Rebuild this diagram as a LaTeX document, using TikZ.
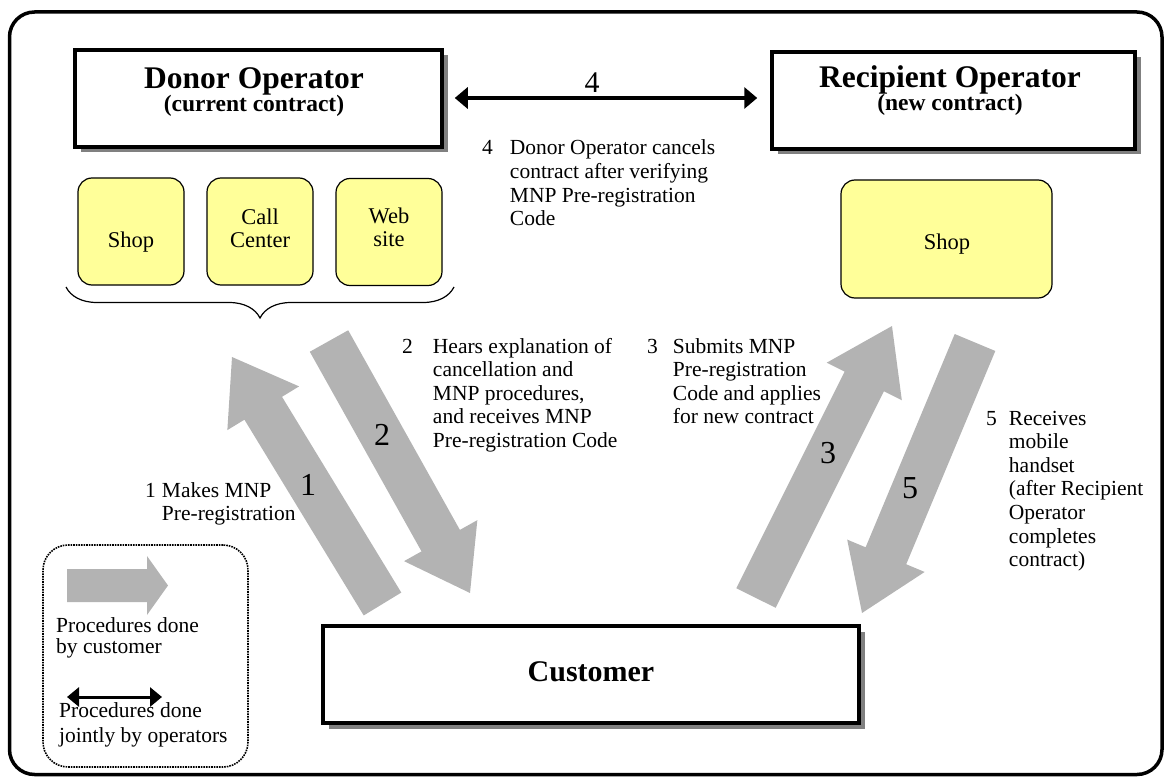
\documentclass[tikz,border=0pt]{standalone}
\usepackage{fontspec}
\setmainfont{Liberation Serif}
\usetikzlibrary{arrows.meta,shadows,decorations.pathreplacing,calc}
\definecolor{fatgray}{HTML}{B3B3B3}
\definecolor{shopyellow}{HTML}{FFFF99}
\definecolor{shadowgray}{HTML}{808080}

% fat block arrow: tail, tip, shaft half-width, head half-width, head length
\newcommand{\fatarrow}[5]{%
  \pgfmathanglebetweenpoints{\pgfpointanchor{#1}{center}}{\pgfpointanchor{#2}{center}}%
  \let\faang\pgfmathresult
  \pgfpointdiff{\pgfpointanchor{#1}{center}}{\pgfpointanchor{#2}{center}}%
  \pgfgetlastxy{\fadx}{\fady}%
  \pgfmathsetmacro\falen{veclen(\fadx,\fady)}%
  \begin{scope}[shift={(#1)},rotate=\faang]
    \fill[fatgray] (0pt,-#3pt) -- (\falen pt-#5pt,-#3pt) -- (\falen pt-#5pt,-#4pt)
      -- (\falen pt,0pt) -- (\falen pt-#5pt,#4pt) -- (\falen pt-#5pt,#3pt) -- (0pt,#3pt) -- cycle;
  \end{scope}}

\newcommand{\notetext}[5]{%
  \node[note] (#1) at (#2) {\begin{tabular}[t]{@{}l@{\hspace{#4pt}}l@{}}#3&\begin{tabular}[t]{@{}l@{}}#5\end{tabular}\end{tabular}};}

\begin{document}
\begin{tikzpicture}[x=1pt,y=-1pt,
  opbox/.style={draw=black, line width=3.5pt, fill=white, inner sep=0pt,
    drop shadow={shadow xshift=5.5pt, shadow yshift=-5.5pt, opacity=1, fill=shadowgray}},
  ybox/.style={draw=black, line width=1.2pt, fill=shopyellow, rounded corners=14pt, inner sep=0pt},
  ttl/.style={font=\fontsize{31.5}{34}\selectfont\bfseries, inner sep=0pt, anchor=base},
  subttl/.style={font=\fontsize{23.5}{26}\selectfont\bfseries, inner sep=0pt, anchor=base},
  lbl/.style={font=\fontsize{22.5}{22.5}\selectfont, inner sep=0pt, anchor=base},
  note/.style={font=\fontsize{21.5}{23.6}\selectfont, inner sep=0pt, anchor=base west},
  bignum/.style={font=\fontsize{32}{34}\selectfont, inner sep=0pt},
  dblarrow/.style={line width=4pt, {Triangle[length=13pt,width=21pt]}-{Triangle[length=13pt,width=21pt]}},
  legarrow/.style={line width=3pt, {Triangle[length=12pt,width=19pt]}-{Triangle[length=12pt,width=19pt]}}
]
\useasboundingbox (0,0) rectangle (1164,778);

% outer frame
\draw[line width=3.5pt, rounded corners=25pt] (9.5,12) rectangle (1162,774.5);

% operator boxes
\node[opbox, minimum width=367pt, minimum height=97pt] (donor) at (258.5,98.5) {};
\node[ttl] (donorT) at (254,88.3) {Donor Operator};
\node[subttl] (donorS) at (254,111.7) {(current contract)};

\node[opbox, minimum width=363pt, minimum height=97pt] (recip) at (953.5,100.5) {};
\node[ttl] (recipT) at (950,87.5) {Recipient Operator};
\node[subttl] (recipS) at (950,111) {(new contract)};

\node[opbox, minimum width=536pt, minimum height=97pt] (cust) at (591,674.5) {};
\node[font=\fontsize{30}{32}\selectfont\bfseries, inner sep=0pt, anchor=base] (custT) at (591,681) {Customer};

% channels
\node[ybox, minimum width=106pt, minimum height=107pt] (shop1) at (131,231.5) {};
\node[lbl] (shop1T) at (131,247) {Shop};
\node[ybox, minimum width=106pt, minimum height=107pt] (call) at (260,231.5) {};
\node[lbl] (callT) at (260,247) {\begin{tabular}[b]{@{}c@{}}Call\\Center\end{tabular}};
\node[ybox, minimum width=106pt, minimum height=107pt] (web) at (389,232) {};
\node[lbl] (webT) at (389,246) {\begin{tabular}[b]{@{}c@{}}Web\\site\end{tabular}};
\node[ybox, minimum width=211pt, minimum height=118pt] (shop2) at (946.5,239) {};
\node[lbl] (shop2T) at (947,249) {Shop};

% brace under the donor channels
\draw[line width=1.2pt, decorate, decoration={brace, amplitude=31pt}] (454,287) -- (66,287);

% operator-to-operator arrow
\draw[dblarrow] ($(donor.east)+(11,-0.5)$) -- ($(recip.west)+(-13,-2.5)$);
\node[font=\fontsize{30}{32}\selectfont, inner sep=0pt] (L4) at (592,83) {4};

% customer procedure arrows
\coordinate (a1t) at (382.5,604); \coordinate (a1h) at (232,357);
\coordinate (a2t) at (329,341);   \coordinate (a2h) at (470,593);
\coordinate (a3t) at (756,598);   \coordinate (a3h) at (892,326);
\coordinate (a5t) at (975,342.5); \coordinate (a5h) at (862,613);
\fatarrow{a1t}{a1h}{22}{42}{60}
\fatarrow{a2t}{a2h}{22}{42}{60}
\fatarrow{a3t}{a3h}{22}{42}{62}
\fatarrow{a5t}{a5h}{22}{42}{62}
\node[bignum] (L1) at (308,485) {1};
\node[bignum] (L2) at (382,435) {2};
\node[bignum] (L3) at (828,453) {3};
\node[bignum] (L5) at (910,488) {5};

% annotations
\notetext{n4}{482,155}{4}{17}{Donor Operator cancels\\contract after verifying\\MNP Pre-registration\\Code}
\notetext{n2}{402,353}{2}{20}{Hears explanation of\\cancellation and\\MNP procedures,\\and receives MNP\\Pre-registration Code}
\notetext{n3}{647,353}{3}{15}{Submits MNP\\Pre-registration\\Code and applies\\for new contract}
\notetext{n5}{986,425}{5}{12}{Receives\\mobile\\handset\\(after Recipient\\Operator\\completes\\contract)}
\notetext{n1}{145,497}{1}{6}{Makes MNP\\Pre-registration}

% legend
\node[draw=black, densely dotted, line width=1.6pt, rounded corners=25pt,
      minimum width=205pt, minimum height=222pt, inner sep=0pt] (legend) at (145.5,656) {};
\coordinate (lgt) at (67,585.5); \coordinate (lgh) at (168,585.5);
\fatarrow{lgt}{lgh}{16.5}{29.5}{21}
\node[font=\fontsize{21.5}{21.7}\selectfont, inner sep=0pt, anchor=base west] (leg1) at (56,632)
  {\begin{tabular}[t]{@{}l@{}}Procedures done\\by customer\end{tabular}};
\coordinate (lda) at (67,697); \coordinate (ldb) at (162,697);
\draw[legarrow] (lda) -- (ldb);
\node[font=\fontsize{21.5}{25}\selectfont, inner sep=0pt, anchor=base west] (leg2) at (59,717)
  {\begin{tabular}[t]{@{}l@{}}Procedures done\\jointly by operators\end{tabular}};
\end{tikzpicture}
\end{document}
